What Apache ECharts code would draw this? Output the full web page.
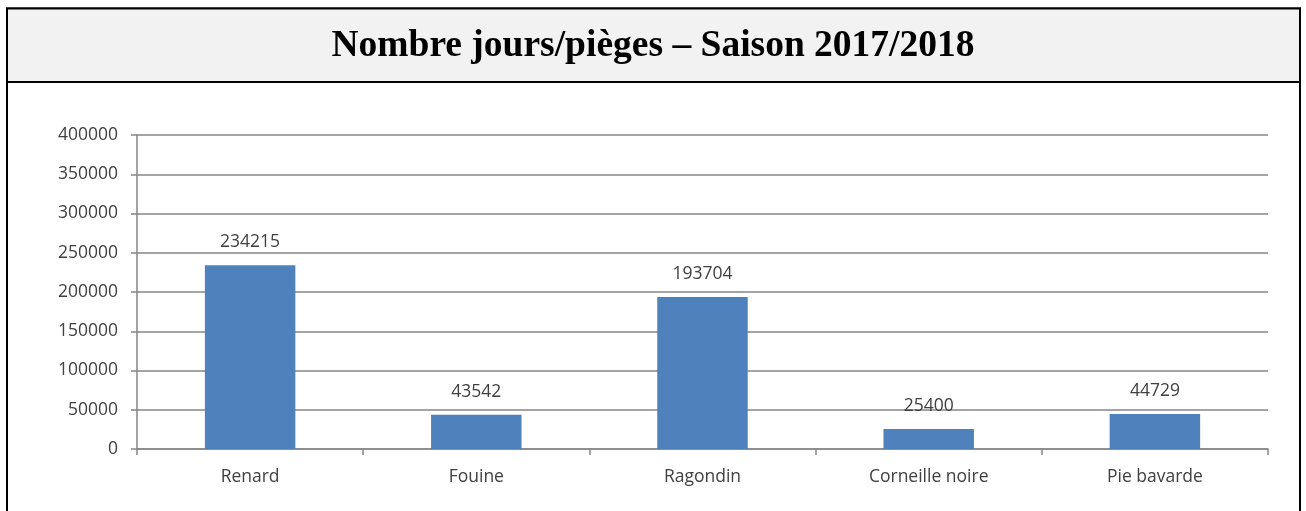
<!DOCTYPE html>
<html><head><meta charset="utf-8">
<script src="https://cdn.jsdelivr.net/npm/echarts@6/dist/echarts.min.js"></script>
<style>html,body{margin:0;padding:0;background:#fff}#c{width:1306px;height:511px}</style>
</head><body><div id="c"></div>
<script>
const categories = ['Renard', 'Fouine', 'Ragondin', 'Corneille noire', 'Pie bavarde'];
const values = [234215, 43542, 193704, 25400, 44729];
const titleText = 'Nombre jours/pièges – Saison 2017/2018';

const chart = echarts.init(document.getElementById('c'), null, {renderer: 'canvas'});
chart.setOption({
  animation: false,
  backgroundColor: '#ffffff',
  graphic: [
    {type: 'rect', z: 0, shape: {x: 7, y: 8.5, width: 1293, height: 560}, style: {fill: '#ffffff', stroke: '#000', lineWidth: 2}},
    {type: 'rect', z: 1, shape: {x: 7, y: 8.5, width: 1293, height: 73.5}, style: {fill: '#f2f2f2', stroke: '#000', lineWidth: 2}}
  ],
  title: {
    text: titleText, left: 'center', top: 22, z: 10,
    textStyle: {fontFamily: 'Liberation Serif', fontWeight: 'bold', fontSize: 37.5, color: '#000'}
  },
  grid: {left: 137, right: 38, top: 135, bottom: 62},
  xAxis: {
    type: 'category', data: categories,
    axisLine: {lineStyle: {color: '#868686', width: 1.5}},
    axisTick: {show: true, length: 6, lineStyle: {color: '#868686', width: 1.5}},
    axisLabel: {color: '#404040', fontFamily: 'Open Sans', fontSize: 17.5, margin: 19}
  },
  yAxis: {
    type: 'value', min: 0, max: 400000, interval: 50000,
    axisLine: {show: true, lineStyle: {color: '#868686', width: 1.5}},
    axisTick: {show: true, length: 6, lineStyle: {color: '#868686', width: 1.5}},
    splitLine: {lineStyle: {color: '#868686', width: 1.5}},
    axisLabel: {color: '#404040', fontFamily: 'Open Sans', fontSize: 17.5, margin: 19, formatter: v => String(v)}
  },
  series: [{
    type: 'bar', data: values, barWidth: '40%',
    itemStyle: {color: '#4f81bd'},
    label: {show: true, position: 'top', distance: 14, color: '#404040', fontFamily: 'Open Sans', fontSize: 17.5}
  }]
});
</script></body></html>
